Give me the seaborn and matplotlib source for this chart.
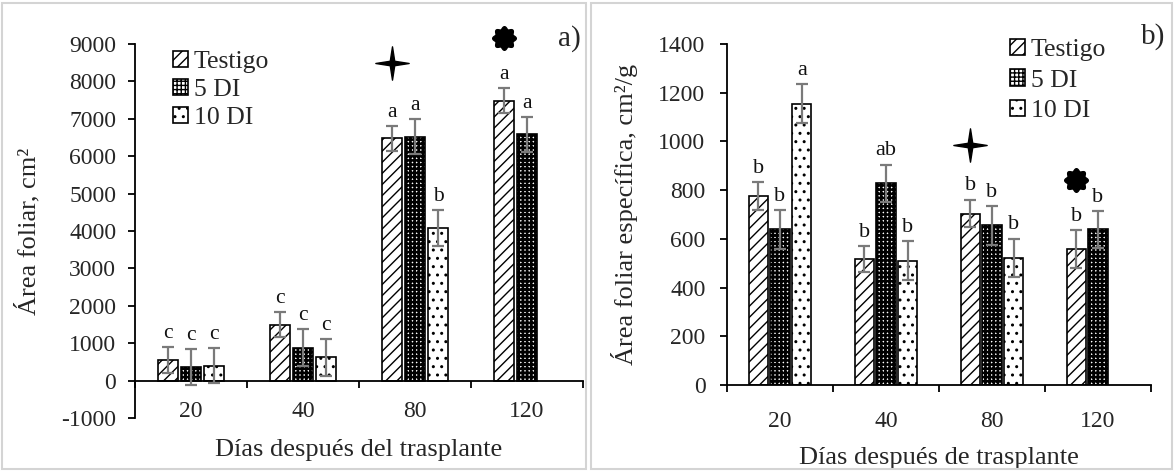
import numpy as np
import pandas as pd
import seaborn as sns
import matplotlib
matplotlib.use("Agg")
import matplotlib.pyplot as plt
from matplotlib.patches import Patch, Rectangle
from matplotlib.path import Path

# ---------------- data ----------------
days = ["20", "40", "80", "120"]
groups = ["Testigo", "5 DI", "10 DI"]

# panel a: leaf area (cm2)
a_testigo = [553, 1500, 6480, 7485]
a_5di = [358, 880, 6523, 6586]
a_10di = [401, 620, 4080, np.nan]
a_err_testigo = [350, 340, 330, 330]
a_err_5di = [480, 490, 470, 470]
a_err_10di = [465, 500, 490, np.nan]
a_let_testigo = ["c", "c", "a", "a"]
a_let_5di = ["c", "c", "a", "a"]
a_let_10di = ["c", "c", "b", ""]
a_yticks = list(range(-1000, 9001, 1000))
a_star = ("80", 8490)
a_flower = ("120", 9160)

# panel b: specific leaf area (cm2/g)
b_testigo = [775, 517, 704, 557]
b_5di = [639, 829, 655, 639]
b_10di = [1155, 510, 522, np.nan]
b_err_testigo = [57, 54, 57, 78]
b_err_5di = [79, 76, 79, 75]
b_err_10di = [79, 80, 79, np.nan]
b_let_testigo = ["b", "b", "b", "b"]
b_let_5di = ["b", "ab", "b", "b"]
b_let_10di = ["a", "b", "b", ""]
b_yticks = list(range(0, 1401, 200))
b_star = ("80", 985)
b_flower = ("120", 843)

# ---------------- style ----------------
sns.set_style("white")
plt.rcParams["font.family"] = ["Liberation Serif", "DejaVu Serif"]
plt.rcParams["hatch.linewidth"] = 1.0

HATCH = {"Testigo": "///", "5 DI": "++++", "10 DI": ".."}
HLW = {"Testigo": 1.0, "5 DI": 1.9, "10 DI": 1.0}

TICK_FS = 17
LABEL_FS = 19
LEG_FS = 18.5

# marker shapes
def four_star():
    pts = []
    for k in range(4):
        ang = np.pi / 2 * k
        pts.append((np.cos(ang), np.sin(ang)))
        ang2 = ang + np.pi / 4
        pts.append((0.19 * np.cos(ang2), 0.19 * np.sin(ang2)))
    pts.append(pts[0])
    return Path(pts, closed=True)

def flower():
    t = np.linspace(0, 2 * np.pi, 200)
    r = 1 + 0.12 * np.cos(8 * t)
    pts = np.column_stack([r * np.cos(t), r * np.sin(t)])
    return Path(pts, closed=True)

STAR = four_star()
FLOWER = flower()

fig = plt.figure(figsize=(11.74, 4.72), dpi=100)

def make_df(t, d5, d10):
    rows = []
    for g, vals in zip(groups, [t, d5, d10]):
        for d, v in zip(days, vals):
            if not np.isnan(v):
                rows.append({"day": d, "group": g, "value": v})
    return pd.DataFrame(rows)

def panel(rect, t, d5, d10, errs, lets, yticks, ylabel, xlabel, star, flw,
          spine_zero, xlab_pad, ylab_pad, xlabel_y, ylabel_x, letter_fs):
    ax = fig.add_axes(rect)
    df = make_df(t, d5, d10)
    sns.barplot(data=df, x="day", y="value", hue="group", order=days,
                hue_order=groups, palette={g: "white" for g in groups},
                width=0.62, gap=0.13, errorbar=None, legend=False, ax=ax,
                edgecolor="black", linewidth=1.2, zorder=2)
    testigo_pos = {}
    for gi, (g, cont) in enumerate(zip(groups, ax.containers)):
        for bar in cont:
            cx = bar.get_x() + bar.get_width() / 2
            j = int(round(cx))
            bar.set_hatch(HATCH[g])
            if hasattr(bar, "set_hatch_linewidth"):
                bar.set_hatch_linewidth(HLW[g])
            h = bar.get_height()
            e = errs[gi][j]
            ax.errorbar(cx, h, yerr=e, fmt="none", ecolor="#7a7a7a",
                        elinewidth=1.6, capsize=4.5, capthick=1.6, zorder=4)
            ax.annotate(lets[gi][j], (cx, h + e), xytext=(0, 3),
                        textcoords="offset points", ha="center", va="bottom",
                        fontsize=letter_fs, color="#111111")
            if g == "Testigo":
                testigo_pos[days[j]] = cx
    # special markers
    ax.plot([testigo_pos[star[0]]], [star[1]], marker=STAR, ms=24,
            color="black", ls="none", clip_on=False, zorder=5)
    ax.plot([testigo_pos[flw[0]]], [flw[1]], marker=FLOWER, ms=17,
            color="black", ls="none", clip_on=False, zorder=5)

    for s in ["top", "right"]:
        ax.spines[s].set_visible(False)
    for s in ["left", "bottom"]:
        ax.spines[s].set_color("black")
        ax.spines[s].set_linewidth(1.3)
    if spine_zero:
        ax.spines["bottom"].set_position(("data", 0))

    ax.set_xlim(-0.5, 3.5)
    ax.set_ylim(yticks[0], yticks[-1])
    ax.set_yticks(yticks)
    ax.set_yticklabels([str(v) for v in yticks])
    ax.set_xticks([-0.5, 0.5, 1.5, 2.5, 3.5])
    ax.set_xticklabels([])
    ax.set_xticks(range(len(days)), minor=True)
    ax.set_xticklabels(days, minor=True)
    ax.tick_params(axis="x", which="major", direction="out", length=5,
                   width=1.3, color="black", bottom=True)
    ax.tick_params(axis="x", which="minor", length=0, pad=xlab_pad,
                   labelsize=TICK_FS)
    ax.tick_params(axis="y", direction="out", length=5, width=1.3,
                   color="black", left=True, pad=ylab_pad, labelsize=TICK_FS)
    ax.set_xlabel(xlabel, fontsize=LABEL_FS)
    ax.set_ylabel(ylabel, fontsize=LABEL_FS)
    ax.xaxis.set_label_coords(0.5, xlabel_y)
    ax.yaxis.set_label_coords(ylabel_x, 0.5)
    ax.grid(False)
    return ax

# panel a
axa = panel([135 / 1174, 1 - 418 / 472, 448 / 1174, 374 / 472],
            a_testigo, a_5di, a_10di,
            [a_err_testigo, a_err_5di, a_err_10di],
            [a_let_testigo, a_let_5di, a_let_10di],
            a_yticks, "Área foliar, cm²", "Días después del trasplante",
            a_star, a_flower, True, 15, 8.5, -0.055, -0.212, 15.5)
# panel b
axb = panel([727 / 1174, 1 - 385 / 472, 424 / 1174, 341 / 472],
            b_testigo, b_5di, b_10di,
            [b_err_testigo, b_err_5di, b_err_10di],
            [b_let_testigo, b_let_5di, b_let_10di],
            b_yticks, "Área foliar específica, cm²/g", "Días después de trasplante",
            b_star, b_flower, False, 19, 10.5, -0.182, -0.21, 16)

# legends
def legend_handles():
    hs = []
    for g in groups:
        p = Patch(facecolor="white", edgecolor="black", hatch=HATCH[g],
                  linewidth=1.2, label=g)
        if hasattr(p, "set_hatch_linewidth"):
            p.set_hatch_linewidth(HLW[g])
        hs.append(p)
    return hs

for ax, loc, sp in [(axa, ((173 - 135) / 448, (418 - 51) / 374), 0.22),
                    (axb, ((1010 - 727) / 424, (385 - 39) / 341), 0.32)]:
    ax.legend(handles=legend_handles(), loc="upper left", bbox_to_anchor=loc,
              frameon=False, fontsize=LEG_FS, handlelength=0.6, handleheight=0.6,
              handletextpad=0.2, labelspacing=sp, borderaxespad=0,
              borderpad=0)

# panel tags
fig.text(569 / 1174, 1 - 46 / 472, "a)", fontsize=21, ha="center", va="baseline")
fig.text(1153 / 1174, 1 - 44 / 472, "b)", fontsize=21, ha="center", va="baseline")

# panel frames
for x0, x1 in [(2, 586), (591, 1172)]:
    fig.add_artist(Rectangle((x0 / 1174, 3 / 472), (x1 - x0) / 1174, 466 / 472,
                             transform=fig.transFigure, fill=False,
                             edgecolor="#d4d4d4", linewidth=1.5))

fig.savefig("out.png", dpi=100)
